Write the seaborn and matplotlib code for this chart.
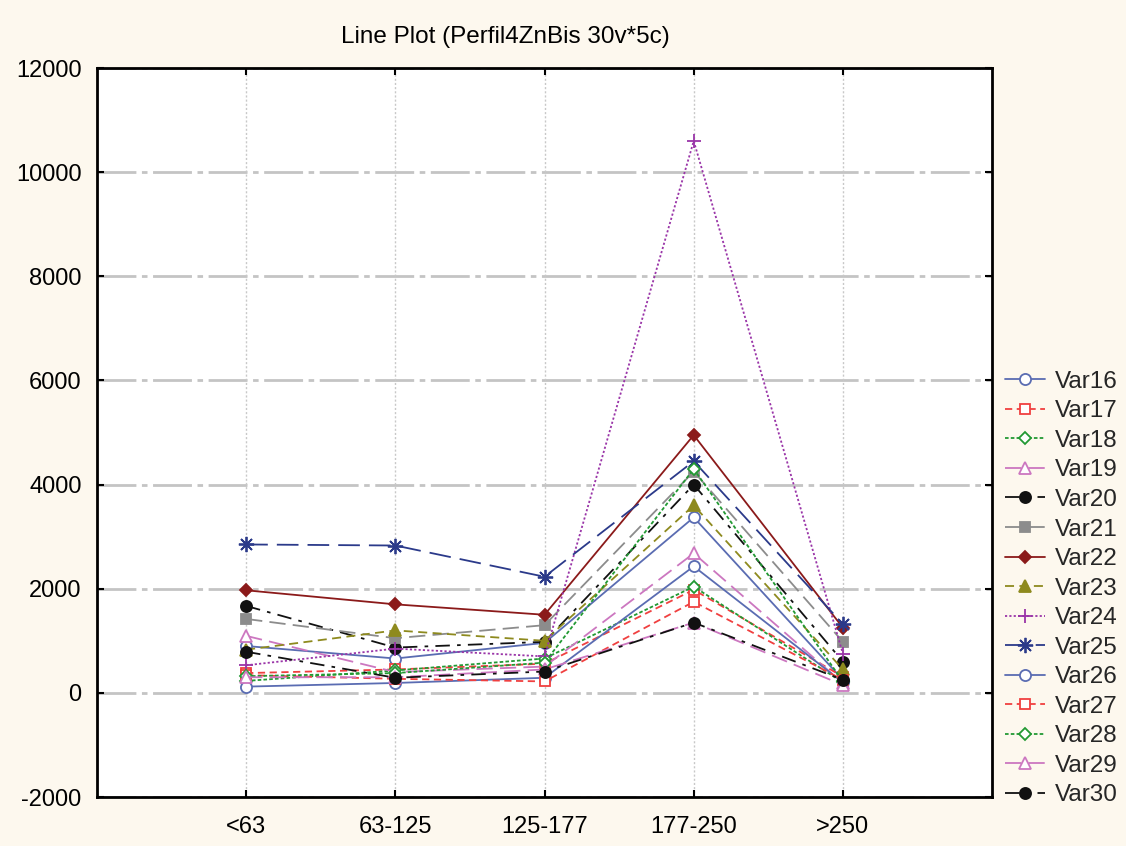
import matplotlib
matplotlib.use("Agg")
import matplotlib.pyplot as plt
import seaborn as sns
import pandas as pd

# Size classes along the x axis
categories = ["<63", "63-125", "125-177", "177-250", ">250"]

# One value per size class for each variable
var16 = [900, 660, 960, 3370, 250]
var17 = [380, 450, 560, 1980, 310]
var18 = [230, 430, 660, 2040, 200]
var19 = [1095, 400, 505, 2680, 186]
var20 = [1670, 870, 980, 4000, 600]
var21 = [1420, 1050, 1300, 4250, 980]
var22 = [1970, 1700, 1500, 4950, 1250]
var23 = [830, 1200, 1000, 3600, 450]
var24 = [530, 850, 700, 10600, 750]
var25 = [2850, 2830, 2230, 4450, 1320]
var26 = [120, 190, 290, 2430, 200]
var27 = [340, 270, 220, 1750, 250]
var28 = [320, 380, 580, 4300, 220]
var29 = [300, 300, 450, 1350, 150]
var30 = [790, 290, 410, 1350, 250]

series_names = ["Var16", "Var17", "Var18", "Var19", "Var20", "Var21", "Var22",
                "Var23", "Var24", "Var25", "Var26", "Var27", "Var28", "Var29", "Var30"]
series_values = [var16, var17, var18, var19, var20, var21, var22,
                 var23, var24, var25, var26, var27, var28, var29, var30]

y_ticks = [-2000, 0, 2000, 4000, 6000, 8000, 10000, 12000]
title = "Line Plot (Perfil4ZnBis 30v*5c)"

df = pd.DataFrame(
    [(name, cat, v) for name, vals in zip(series_names, series_values)
     for cat, v in zip(categories, vals)],
    columns=["series", "size", "value"],
)

asterisk = (8, 2, 0)
styles = {
    "Var16": dict(color="#5a6cb2", ls="-", marker="o", mfc="white"),
    "Var17": dict(color="#f04040", ls=(0, (4, 2.5)), marker="s", mfc="white"),
    "Var18": dict(color="#229933", ls=(0, (2, 1.2)), marker="D", mfc="white"),
    "Var19": dict(color="#cc77c0", ls=(0, (9, 4)), marker="^", mfc="white"),
    "Var20": dict(color="#111111", ls=(0, (8, 4, 2, 4)), marker="o", mfc="#111111"),
    "Var21": dict(color="#8c8c8c", ls=(0, (9, 4)), marker="s", mfc="#8c8c8c"),
    "Var22": dict(color="#8b1a1a", ls="-", marker="D", mfc="#8b1a1a"),
    "Var23": dict(color="#8e8a1e", ls=(0, (5, 3)), marker="^", mfc="#8e8a1e"),
    "Var24": dict(color="#9a35a8", ls=(0, (1.2, 1.2)), marker="+", mfc="#9a35a8"),
    "Var25": dict(color="#2b3a8a", ls=(0, (12, 5)), marker=asterisk, mfc="#2b3a8a"),
    "Var26": dict(color="#5a6cb2", ls="-", marker="o", mfc="white"),
    "Var27": dict(color="#f04040", ls=(0, (4, 2.5)), marker="s", mfc="white"),
    "Var28": dict(color="#229933", ls=(0, (2, 1.2)), marker="D", mfc="white"),
    "Var29": dict(color="#cc77c0", ls=(0, (9, 4)), marker="^", mfc="white"),
    "Var30": dict(color="#111111", ls=(0, (8, 4, 2, 4)), marker="o", mfc="#111111"),
}
marker_sizes = {"o": 8, "s": 7.5, "D": 6.5, "^": 8, "+": 10, asterisk: 11}

sns.set_theme(style="white")
plt.rcParams["font.family"] = ["Liberation Sans", "DejaVu Sans"]
plt.rcParams["axes.unicode_minus"] = False

bg = "#fdf8ee"
fig = plt.figure(figsize=(11.26, 8.46), dpi=100, facecolor=bg)
ax = fig.add_axes([0.0861, 0.0579, 0.795, 0.8617])
ax.set_facecolor("white")

# Grid drawn first so the lines sit underneath
for y in y_ticks:
    ax.axhline(y, color="#c4c4c4", lw=2.0, ls=(0, (14, 2, 2, 2)), zorder=0)
for i in range(len(categories)):
    ax.axvline(i, color="#c8c8c8", lw=1.0, ls=(0, (1.5, 1.5)), zorder=0)

for name in series_names:
    st = styles[name]
    sub = df[df["series"] == name]
    sns.lineplot(
        data=sub, x="size", y="value", ax=ax, sort=False,
        color=st["color"], linestyle=st["ls"], linewidth=1.3,
        marker=st["marker"], markersize=marker_sizes[st["marker"]],
        markerfacecolor=st["mfc"], markeredgecolor=st["color"],
        markeredgewidth=1.3, label=name, zorder=3,
    )

ax.set_xlim(-1, 5)
ax.set_ylim(-2000, 12000)
ax.set_yticks(y_ticks)
ax.set_xticks(range(len(categories)))
ax.set_xticklabels(categories)
ax.set_xlabel("")
ax.set_ylabel("")
ax.tick_params(axis="both", direction="in", length=5, width=1.5, color="black",
               labelsize=17, labelcolor="black",
               top=True, right=True, bottom=True, left=True)
ax.tick_params(axis="y", pad=11)
ax.tick_params(axis="x", pad=14)
for sp in ax.spines.values():
    sp.set_color("black")
    sp.set_linewidth(2)

fig.text(0.449, 0.956, title, ha="center", va="center",
         fontsize=17.5, color="black")

leg = ax.legend(loc="upper left", bbox_to_anchor=(1.003, 0.598), frameon=False,
                fontsize=17.5, handlelength=1.65, handletextpad=0.42,
                labelspacing=0.31, borderaxespad=0)

fig.savefig("out.png", dpi=100, facecolor=bg)
